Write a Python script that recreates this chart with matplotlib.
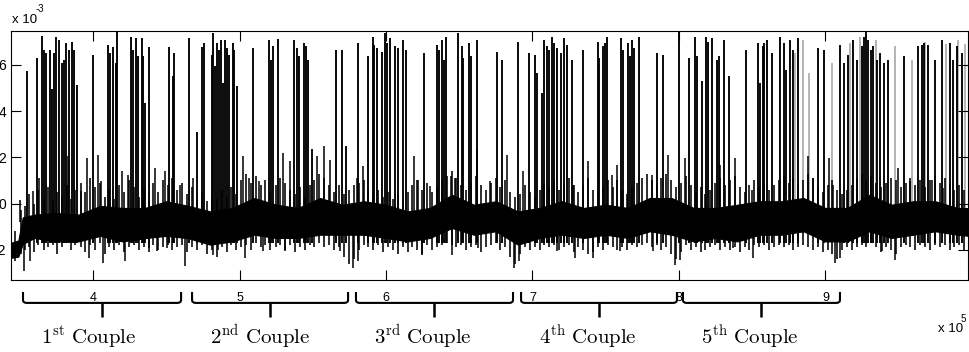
import numpy as np
import matplotlib
matplotlib.use("Agg")
import matplotlib.pyplot as plt
from matplotlib.path import Path
from matplotlib.patches import PathPatch
from matplotlib.transforms import blended_transform_factory

plt.rcParams['mathtext.fontset'] = 'cm'
plt.rcParams['font.family'] = ['Liberation Sans', 'DejaVu Sans']

# ---------------- data (x in thousands of samples, y in units of 1e-3) ----------------
band_t = [344, 349, 352, 360, 375, 390, 405, 420, 435, 450, 465, 480, 495, 510, 525, 540,
          555, 570, 585, 600, 615, 630, 645, 660, 675, 690, 705, 720, 735, 750, 765, 780,
          795, 810, 825, 840, 855, 870, 885, 900, 915, 930, 945, 960, 975, 990, 998]
band_hi = [-1.7, -1.6, -0.6, -0.48, -0.41, -0.48, -0.1, -0.19, -0.2, 0.1, -0.1, -0.34, -0.19, 0.24, -0.05, -0.19,
           0.24, -0.05, 0.1, -0.05, -0.34, -0.19, 0.38, -0.05, 0.1, -0.34, -0.19, 0.1, -0.19, -0.05, -0.19, 0.24,
           0.24, -0.19, -0.19, -0.05, 0.1, 0.1, 0.24, -0.19, -0.19, 0.38, -0.05, 0.1, 0.1, -0.19, -0.2]
band_lo = [-2.35, -2.3, -1.75, -1.49, -1.64, -1.64, -1.4, -1.64, -1.5, -1.4, -1.5, -1.78, -1.64, -1.35, -1.49, -1.49,
           -1.35, -1.35, -1.35, -1.49, -1.64, -1.49, -1.06, -1.35, -1.2, -1.78, -1.49, -1.35, -1.49, -1.35, -1.49, -1.2,
           -1.35, -1.64, -1.49, -1.64, -1.35, -1.35, -1.2, -1.64, -1.64, -1.2, -1.49, -1.35, -1.2, -1.35, -1.4]

# short noise strokes that give the baseline its texture
hair_t = [347.0, 350.5, 353.8, 356.4, 359.9, 362.7, 366.2, 369.0, 372.8, 375.5,
          378.9, 382.0, 385.3, 388.0, 391.7, 394.4, 398.0, 401.2, 404.5, 408.3,
          411.0, 414.6, 417.8, 420.9, 424.5, 427.9, 431.2, 434.8, 437.9, 441.0,
          444.6, 447.7, 451.0, 454.2, 457.5, 460.9, 464.2, 467.6, 471.0, 474.4,
          477.9, 481.0, 484.6, 487.8, 491.2, 494.5, 497.9, 501.0, 504.5, 507.8,
          511.0, 514.5, 517.7, 521.0, 524.6, 527.8, 531.0, 534.5, 537.8, 541.1,
          544.4, 547.9, 551.0, 554.5, 557.9, 561.2, 564.5, 567.8, 571.0, 574.6,
          578.0, 581.3, 584.8, 588.0, 591.4, 594.8, 598.0, 601.5, 604.8, 608.1,
          611.5, 614.8, 618.0, 621.4, 624.8, 628.0, 631.4, 634.8, 638.0, 641.4,
          644.8, 648.0, 651.5, 654.8, 658.0, 661.4, 664.8, 668.0, 671.4, 674.8,
          678.0, 681.4, 684.8, 688.0, 691.4, 694.8, 698.0, 701.4, 704.8, 708.0,
          711.4, 714.8, 718.0, 721.4, 724.8, 728.0, 731.4, 734.8, 738.0, 741.4,
          744.8, 748.0, 751.4, 754.8, 758.0, 761.4, 764.8, 768.0, 771.4, 774.8,
          778.0, 781.4, 784.8, 788.0, 791.4, 794.8, 798.0, 801.4, 804.8, 808.0,
          811.4, 814.8, 818.0, 821.4, 824.8, 828.0, 831.4, 834.8, 838.0, 841.4,
          844.8, 848.0, 851.4, 854.8, 858.0, 861.4, 864.8, 868.0, 871.4, 874.8,
          878.0, 881.4, 884.8, 888.0, 891.4, 894.8, 898.0, 901.4, 904.8, 908.0,
          911.4, 914.8, 918.0, 921.4, 924.8, 928.0, 931.4, 934.8, 938.0, 941.4,
          944.8, 948.0, 951.4, 954.8, 958.0, 961.4, 964.8, 968.0, 971.4, 974.8,
          978.0, 981.4, 984.8, 988.0, 991.4, 994.8]
hair_hi = [-1.2, -0.3, -0.1, 0.4, 0.0, 0.6, 0.2, 0.7, 0.1, 0.5,
           0.3, 0.8, 0.2, 0.6, 0.9, 0.5, 1.1, 0.7, 0.9, 0.3,
           0.6, 0.2, 0.8, 0.5, 1.0, 0.7, 0.3, 0.6, 0.2, 0.9,
           0.5, 1.0, 0.8, 1.1, 0.6, 0.9, 0.4, 0.7, 0.2, 0.5,
           0.1, 0.4, 0.2, 0.6, 0.3, 0.7, 0.4, 1.0, 1.3, 0.9,
           1.2, 0.8, 1.0, 0.5, 0.8, 1.1, 0.9, 0.6, 0.4, 0.7,
           0.3, 0.8, 1.0, 1.3, 1.1, 0.8, 0.5, 0.8, 0.4, 0.6,
           0.8, 0.9, 1.0, 0.6, 0.4, 0.6, 0.3, 0.5, 0.2, 0.4,
           0.1, 0.5, 0.8, 1.0, 0.6, 0.9, 0.5, 0.7, 1.0, 1.2,
           1.4, 1.1, 0.8, 0.6, 0.9, 1.2, 0.8, 0.6, 0.9, 1.1,
           0.7, 1.0, 0.5, 0.3, 0.4, 0.8, 0.5, 0.3, 0.6, 0.9,
           0.7, 1.0, 0.6, 0.9, 1.1, 0.8, 0.5, 0.8, 1.1, 0.6,
           0.4, 0.7, 1.0, 0.7, 1.0, 0.6, 0.4, 0.7, 0.9, 1.1,
           1.3, 1.0, 0.8, 1.1, 1.3, 1.0, 0.7, 0.9, 1.2, 0.8,
           0.5, 0.7, 0.4, 0.6, 0.9, 1.1, 0.8, 1.0, 1.2, 0.7,
           0.5, 0.8, 1.0, 0.7, 0.9, 0.6, 0.8, 1.0, 1.2, 0.9,
           1.1, 0.8, 1.0, 1.3, 1.1, 0.7, 0.5, 0.8, 1.0, 0.6,
           0.4, 0.6, 0.8, 1.1, 1.3, 1.0, 1.2, 0.9, 0.7, 0.9,
           1.1, 1.0, 0.7, 0.9, 1.1, 0.8, 1.0, 0.7, 1.0, 1.2,
           0.9, 1.1, 0.8, 0.6, 0.8, 0.6]
hair_lo = [-2.5, -2.2, -2.0, -1.9, -2.1, -1.8, -2.0, -1.9, -1.8, -2.2,
           -1.9, -1.7, -2.0, -1.8, -1.9, -2.1, -1.8, -2.0, -1.7, -2.2,
           -1.9, -2.0, -1.8, -2.1, -1.9, -1.8, -2.0, -1.9, -2.1, -1.8,
           -2.0, -1.9, -1.8, -2.0, -1.9, -1.8, -2.1, -1.9, -2.0, -1.8,
           -2.2, -2.0, -2.3, -1.9, -2.1, -1.8, -2.0, -1.9, -1.8, -2.0,
           -1.7, -1.9, -1.8, -2.0, -1.9, -1.8, -2.0, -1.8, -2.1, -1.9,
           -2.0, -1.8, -1.9, -1.7, -1.9, -1.8, -2.0, -1.9, -2.3, -2.6,
           -2.4, -2.0, -1.8, -1.9, -2.0, -1.8, -2.1, -1.9, -2.0, -2.2,
           -1.9, -2.1, -1.9, -2.0, -2.2, -1.8, -2.0, -1.9, -1.8, -1.7,
           -1.8, -1.9, -1.8, -2.0, -1.9, -1.8, -2.1, -1.9, -1.8, -1.7,
           -2.0, -1.9, -2.3, -2.6, -2.2, -1.9, -2.0, -1.9, -2.0, -1.8,
           -1.9, -1.8, -2.0, -1.9, -1.8, -2.1, -1.9, -2.0, -2.2, -2.1,
           -1.9, -2.0, -1.8, -1.9, -2.0, -1.9, -2.0, -1.8, -1.9, -1.8,
           -1.7, -1.9, -1.8, -2.0, -1.9, -2.2, -2.4, -2.1, -1.8, -2.0,
           -1.9, -2.1, -2.0, -1.9, -1.8, -2.0, -1.9, -2.0, -1.9, -2.1,
           -1.9, -2.0, -1.8, -1.9, -1.8, -2.0, -1.9, -1.8, -1.9, -1.8,
           -2.0, -1.9, -1.8, -1.9, -2.0, -1.9, -2.1, -2.0, -2.2, -2.4,
           -2.0, -1.9, -2.0, -1.9, -1.8, -1.9, -1.7, -1.9, -2.1, -1.9,
           -2.0, -2.2, -1.9, -1.8, -1.9, -2.0, -1.8, -1.9, -2.0, -1.8,
           -1.9, -1.8, -2.0, -1.9, -1.8, -2.0]

spike_t = [355.2, 361.6, 365.4, 366.8, 367.9, 370.6, 372.0, 373.2, 374.9, 377.0, 378.6, 380.4, 381.6,
           383.8, 385.9, 387.0, 388.9, 400.2, 410.0, 411.6, 413.9, 415.7, 416.4, 425.7, 427.1, 429.1,
           430.5, 433.2, 434.3, 435.5, 438.4, 451.7, 454.8, 455.5, 465.7, 470.8, 474.2, 475.8,
           481.0, 482.1, 483.2, 484.4, 486.0, 487.1, 488.9, 490.3, 491.7, 492.8, 495.3, 496.4, 498.5,
           509.4, 520.1, 521.2, 523.0, 526.2, 537.4, 539.0, 540.3, 544.0, 545.3, 546.5, 549.4, 565.8,
           569.7, 572.4, 580.6, 587.9, 590.8, 592.0, 593.6, 597.0, 599.3, 600.4, 602.7,
           606.1, 608.4, 611.8, 613.6, 626.1, 635.0, 636.4, 638.4, 639.6, 640.9, 649.3, 651.6, 652.7,
           656.6, 658.0, 662.3, 675.5, 678.9, 690.3, 697.8, 701.4, 702.8, 706.2, 707.8, 709.6, 711.4,
           713.0, 714.9, 716.5, 719.2, 721.5, 723.3, 726.7,
           734.2, 744.5, 745.4, 748.3, 749.7, 751.1, 760.4, 762.0, 764.9, 766.5, 767.7, 769.3, 772.7,
           785.2, 788.8, 800.0, 807.0, 810.9, 812.5, 815.7, 818.4, 820.0, 822.3, 825.7, 827.5, 830.9,
           834.3, 845.5, 854.1, 855.3, 857.1, 858.2, 859.8, 863.2,
           868.9, 871.7, 873.0, 875.8, 877.6, 881.4, 895.1, 899.0, 909.9, 912.6, 915.6, 919.0, 921.7,
           924.7, 926.5, 927.6, 929.2, 930.8, 932.6, 934.9, 937.2, 939.9, 942.4, 953.8, 962.9, 965.6,
           967.2, 969.7, 974.7, 979.3, 985.0, 987.2, 989.5, 992.9]
spike_v = [5.72, 6.30, 7.25, 6.65, 6.51, 6.65, 4.94, 6.51, 7.22, 7.08, 6.08, 6.22, 6.94,
           6.65, 7.01, 6.65, 5.15, 6.44, 6.87, 6.51, 6.79, 6.08, 7.45, 7.22, 6.65, 7.15,
           6.37, 7.15, 6.37, 4.36, 6.79, 6.79, 5.51, 6.51, 7.15, 3.08, 6.79, 6.94,
           6.44, 7.40, 5.94, 6.94, 6.65, 7.08, 5.22, 7.08, 6.72, 6.44, 6.94, 6.65, 5.08,
           6.72, 7.08, 6.22, 6.80, 7.11, 7.08, 6.72, 6.37, 6.94, 6.80, 6.22, 2.36, 6.65,
           6.65, 2.50, 6.94, 6.37, 7.22, 6.87, 6.72, 6.58, 7.40, 6.94, 7.15,
           6.80, 6.72, 7.08, 6.65, 6.51, 6.87, 6.65, 7.08, 6.22, 7.22, 7.40, 6.80, 6.29,
           6.94, 6.37, 7.08, 6.58, 6.22, 7.01, 6.51, 6.44, 5.65, 4.79, 7.08, 6.80, 6.65,
           7.22, 6.94, 6.72, 6.51, 7.15, 6.87, 6.22,
           6.65, 7.01, 6.29, 6.80, 6.94, 7.22, 7.15, 6.65, 6.94, 6.37, 7.08, 6.72, 7.22,
           6.51, 6.44, 7.45, 6.29, 7.22, 6.37, 5.29, 7.22, 7.01, 7.15, 6.22, 6.37, 7.08,
           5.51, 6.65, 6.94, 5.22, 6.80, 6.94, 7.08, 6.51,
           7.22, 6.94, 5.79, 7.08, 6.65, 7.15, 6.72, 6.65, 6.87, 6.08, 6.44, 7.08, 6.22,
           6.80, 7.22, 7.45, 7.08, 6.65, 6.80, 6.22, 6.51, 6.08, 6.22, 6.37, 6.80, 6.87,
           6.94, 6.87, 6.22, 7.08, 6.94, 6.22, 6.80, 6.51]

faint_t = [879.2, 884.9, 889.0, 904.2, 916.7, 923.5, 934.4, 947.4, 958.8, 967.9, 982.0, 990.5, 995.5]
faint_v = [6.51, 7.08, 5.65, 6.08, 6.94, 7.22, 7.08, 6.80, 6.22, 7.01, 6.90, 7.10, 6.90]

up_t = [350.1, 358.8, 363.3, 383.1, 391.5, 396.1, 403.6, 405.2, 419.5, 424.1, 442.3, 449.1, 459.3, 468.4,
        502.6, 506.7, 513.5, 529.9, 534.4, 553.1, 557.6, 561.7, 579.9, 584.0,
        619.1, 622.0, 630.0, 644.1, 647.1, 661.9, 671.0, 682.3, 693.7, 727.8,
        738.1, 754.0, 757.4, 781.3, 792.7, 804.1, 828.0, 838.2, 849.6,
        888.3, 891.7, 902.6, 905.3, 949.7, 957.7, 972.4, 980.4]
up_v = [0.17, 0.53, 1.11, 2.04, 0.53, 1.97, 2.12, 0.96, 1.39, 1.25, 1.54, 1.39, 0.82, 1.11,
        2.04, 1.11, 0.96, 2.19, 1.83, 2.04, 2.48, 1.90, 1.11, 1.61,
        2.04, 1.03, 0.75, 1.18, 1.11, 2.33, 0.96, 2.12, 1.39, 0.82,
        1.83, 1.25, 1.68, 1.25, 2.12, 1.97, 1.68, 1.97, 0.60,
        2.04, 1.11, 1.97, 0.82, 1.54, 0.96, 1.03, 0.67]

dn_t = [352.9, 357.0, 397.4, 407.0, 421.8, 438.4, 443.4, 450.2, 462.7,
        482.1, 485.5, 503.7, 516.2, 531.0, 568.6, 577.7, 581.1,
        624.3, 644.8, 663.0, 687.3, 691.0, 716.5, 729.0,
        741.5, 759.7, 782.4, 797.2, 800.7, 837.1, 850.7,
        906.5, 909.9, 938.3, 947.4]
dn_v = [-2.93, -2.50, -2.36, -2.57, -2.50, -1.92, -2.07, -1.92, -2.72,
        -2.21, -2.00, -2.36, -2.07, -2.07, -2.07, -2.79, -2.50,
        -2.21, -2.21, -1.92, -2.79, -2.50, -2.07, -2.36,
        -2.36, -2.07, -2.07, -2.65, -2.43, -1.92, -2.36,
        -2.57, -2.36, -2.07, -2.43]

couple_sup = ['st', 'nd', 'rd', 'th', 'th']
couple_start = [352.2, 467.6, 579.5, 692.2, 802.7]
couple_end = [460.1, 574.1, 686.7, 798.6, 909.9]

xtick_vals = [4, 5, 6, 7, 8, 9]          # x 10^5
ytick_vals = [-2, 0, 2, 4, 6]            # x 10^-3

KS = 1e3
MV = 1e-3

# ---------------- figure ----------------
W, H = 970, 352
fig = plt.figure(figsize=(W / 100, H / 100), dpi=100)
ax = fig.add_axes([11 / W, 1 - 280 / H, 957 / W, 249 / H])

bt = np.array(band_t) * KS
ax.fill_between(bt, np.array(band_lo) * MV, np.array(band_hi) * MV,
                color='black', lw=0.8, zorder=2)
ax.vlines(np.array(hair_t) * KS, np.array(hair_lo) * MV, np.array(hair_hi) * MV,
          color='black', lw=1.15, zorder=2)
ax.vlines(np.array(up_t) * KS, -0.8 * MV, np.array(up_v) * MV, color='black', lw=1.1, zorder=2)
ax.vlines(np.array(dn_t) * KS, -0.8 * MV, np.array(dn_v) * MV, color='black', lw=1.1, zorder=2)
ax.vlines(np.array(faint_t) * KS, -1.3 * MV, np.array(faint_v) * MV, color='#a0a0a0', lw=1.1, zorder=1)
ax.vlines(np.array(spike_t) * KS, -1.7 * MV, np.array(spike_v) * MV, color='black', lw=1.35, zorder=3)

ax.set_xlim(344.0 * KS, 997.3 * KS)
ax.set_ylim(-3.31 * MV, 7.47 * MV)
ax.set_xticks([v * 1e5 for v in xtick_vals])
ax.set_xticklabels([str(v) for v in xtick_vals])
ax.set_yticks([v * MV for v in ytick_vals])
ax.set_yticklabels([str(v) for v in ytick_vals])
ax.tick_params(axis='both', direction='in', length=7, width=0.8, top=True, right=True, colors='black')
ax.tick_params(axis='x', labelsize=9, pad=8.5)
ax.tick_params(axis='y', labelsize=10, pad=3.6)
for s in ax.spines.values():
    s.set_linewidth(0.8)
    s.set_zorder(5)

# offset labels (MATLAB style)
fig.text(12 / W, 1 - 22.7 / H, 'x 10', fontsize=9.5, ha='left', va='baseline')
fig.text(36 / W, 1 - 12 / H, '-3', fontsize=7, ha='left', va='baseline')
fig.text(938 / W, 1 - 331.5 / H, 'x 10', fontsize=9.5, ha='left', va='baseline')
fig.text(961 / W, 1 - 321.5 / H, '5', fontsize=7, ha='left', va='baseline')

# brackets
tr = blended_transform_factory(ax.transData, ax.transAxes)
y_top, y_bar, y_tip = -0.048, -0.092, -0.149
r = 2.5 * KS
dy = 0.012
for i, (s, e) in enumerate(zip(couple_start, couple_end)):
    s *= KS
    e *= KS
    m = (s + e) / 2
    verts = [(s, y_top), (s, y_bar + dy), (s, y_bar), (s + r, y_bar),
             (e - r, y_bar), (e, y_bar), (e, y_bar + dy), (e, y_top)]
    codes = [Path.MOVETO, Path.LINETO, Path.CURVE3, Path.CURVE3,
             Path.LINETO, Path.CURVE3, Path.CURVE3, Path.LINETO]
    ax.add_patch(PathPatch(Path(verts, codes), transform=tr, fill=False,
                           lw=1.5, color='black', clip_on=False))
    ax.plot([m, m], [y_bar, y_tip], transform=tr, color='black', lw=1.8, clip_on=False,
            solid_capstyle='butt')
    ax.text(s + 12.3 * KS, -0.257, r'$\mathrm{%d^{%s}\ Couple}$' % (i + 1, couple_sup[i]),
            transform=tr, fontsize=15, ha='left', va='baseline', clip_on=False)

fig.savefig('out.png', dpi=100)
